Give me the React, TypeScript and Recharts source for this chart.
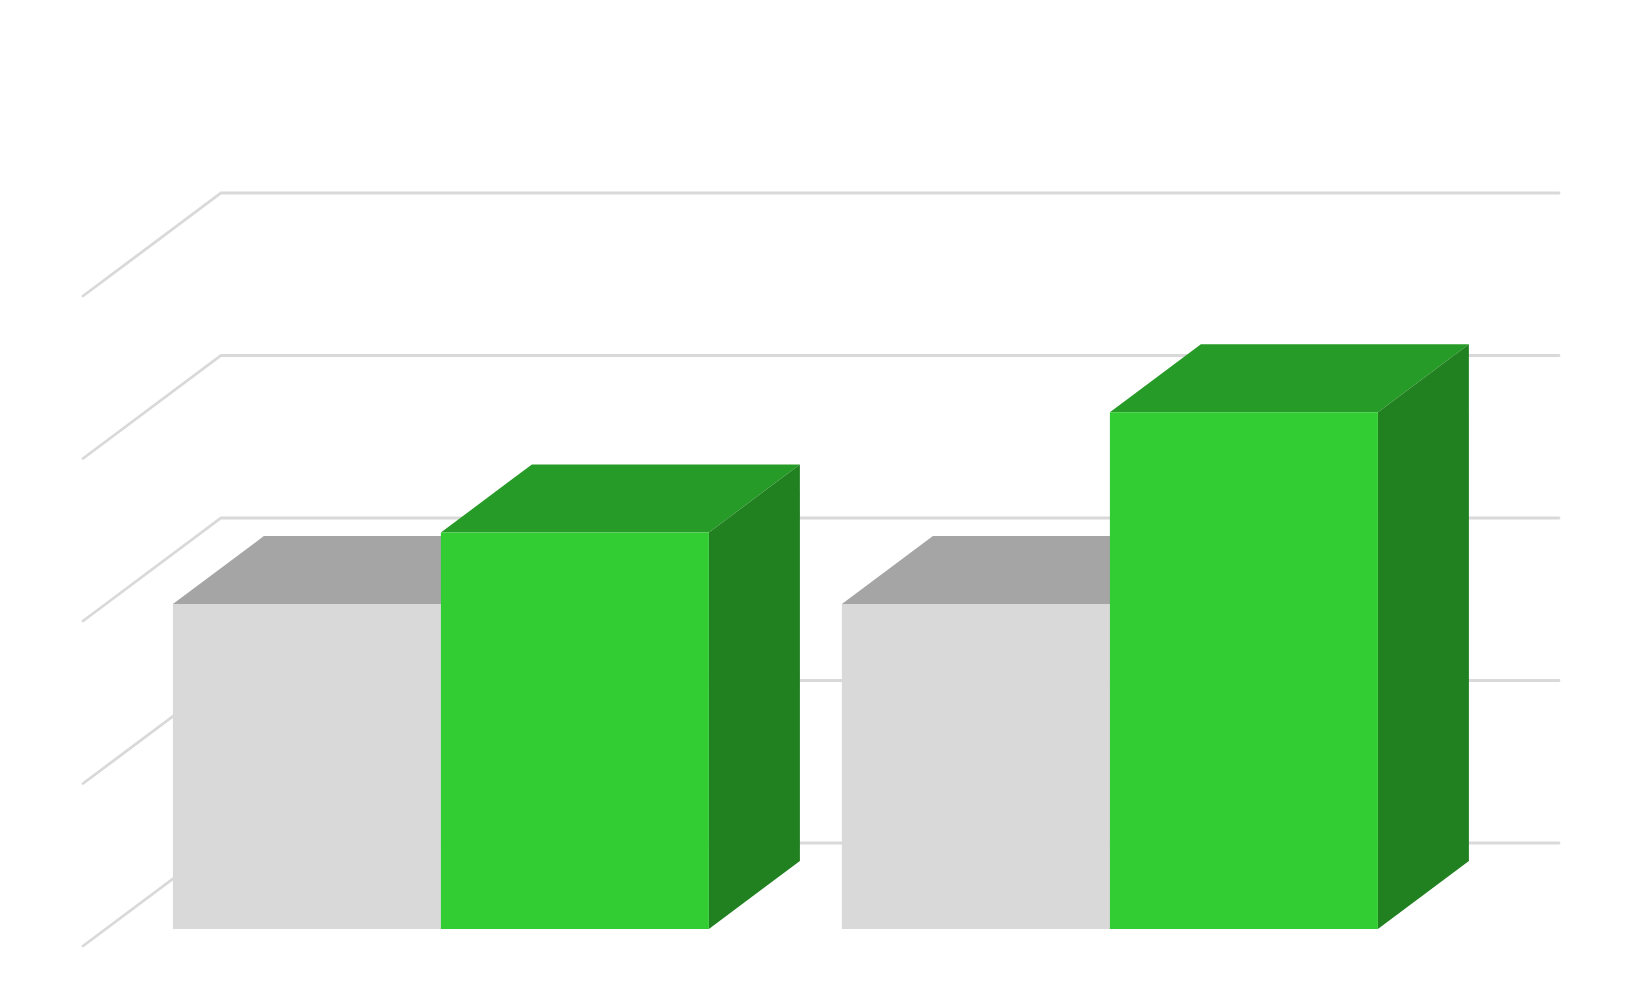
import { BarChart, Bar, XAxis, YAxis, CartesianGrid } from 'recharts'

// Barras 3D planas: gris de referencia y verde. Sin etiquetas en el original.

const categorias = ['Grupo 1', 'Grupo 2']
const serieGris = [50, 50]
const serieVerde = [61, 79.5]
const ticksY = [0, 25, 50, 75, 100]

const data = categorias.map((c, i) => ({ name: c, gris: serieGris[i], verde: serieVerde[i] }))

const GRID = '#d9d9d9'

// desplazamientos de la perspectiva (px)
const SUELO_DX = 138
const SUELO_DY = 103
const FRENTE_DX = 115
const FRENTE_DY = 86
const FONDO_DX = 91
const FONDO_DY = 68

function caja(frente: string, arriba: string, lado: string) {
  return (props: any) => {
    const { x, y, width, height } = props
    if (width == null || height == null) return <g />
    const fx = x - FRENTE_DX
    const fy = y + FRENTE_DY
    const r = fx + width
    const top = `${fx},${fy} ${fx + FONDO_DX},${fy - FONDO_DY} ${r + FONDO_DX},${fy - FONDO_DY} ${r},${fy}`
    const side = `${r},${fy} ${r + FONDO_DX},${fy - FONDO_DY} ${r + FONDO_DX},${fy + height - FONDO_DY} ${r},${fy + height}`
    return (
      <g>
        <polygon points={top} fill={arriba} />
        <polygon points={side} fill={lado} />
        <rect x={fx} y={fy} width={width} height={height} fill={frente} />
      </g>
    )
  }
}

function lineaRejilla(props: any) {
  const { x1, y1, x2, y2, index } = props
  return (
    <polyline
      key={`h-${index}-${y1}`}
      points={`${x1 - SUELO_DX},${y1 + SUELO_DY} ${x1},${y1} ${x2},${y2}`}
      fill="none"
      stroke={GRID}
      strokeWidth={2.8}
      strokeLinecap="round"
      strokeLinejoin="miter"
    />
  )
}

export default function App() {
  return (
    <BarChart
      width={1633}
      height={989}
      data={data}
      margin={{ top: 185, right: 82, left: 213, bottom: 154 }}
      barCategoryGap="10%"
      barGap={0}
    >
      <CartesianGrid vertical={false} horizontal={lineaRejilla} />
      <XAxis dataKey="name" hide />
      <YAxis domain={[0, 100]} ticks={ticksY} hide />
      <Bar dataKey="gris" isAnimationActive={false} shape={caja('#d9d9d9', '#a5a5a5', '#8c8c8c')} />
      <Bar dataKey="verde" isAnimationActive={false} shape={caja('#32cd32', '#279b27', '#218121')} />
    </BarChart>
  )
}
